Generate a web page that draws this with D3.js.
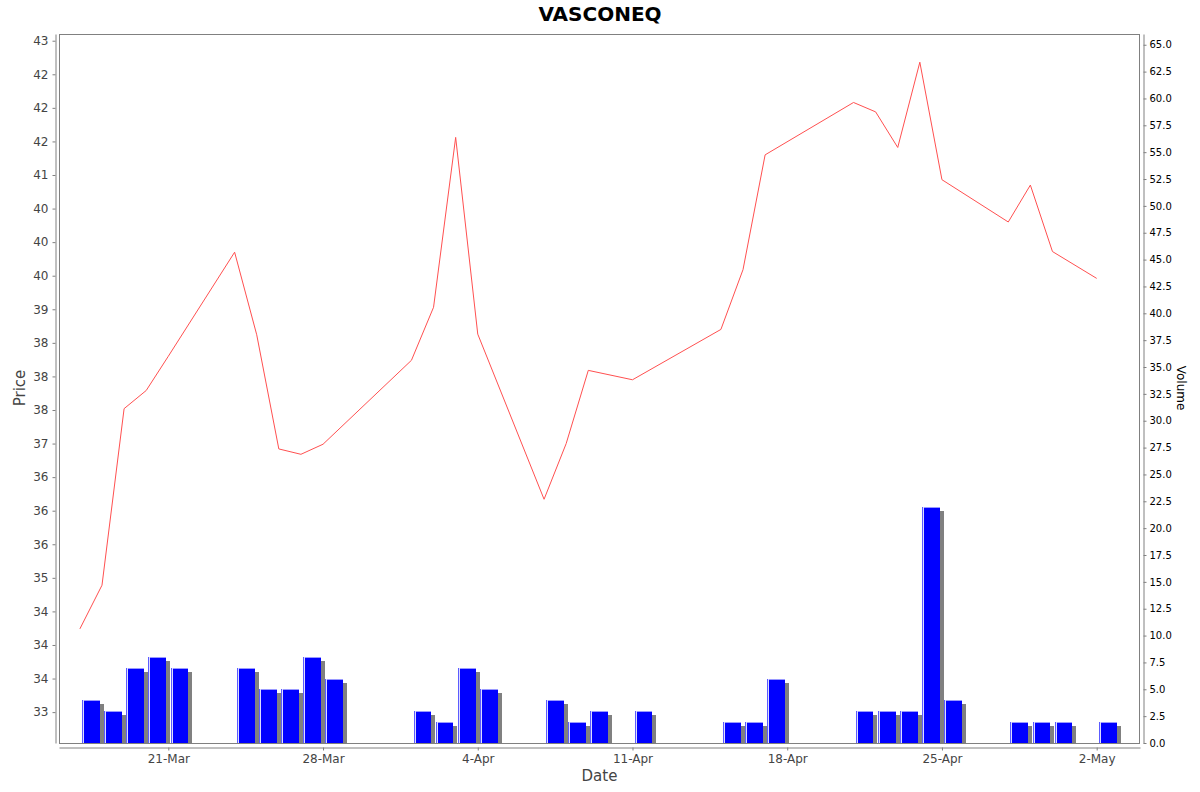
<!DOCTYPE html>
<html>
<head>
<meta charset="utf-8">
<script src="https://cdn.jsdelivr.net/npm/d3@7"></script>
<style>
  body { margin: 0; background: #fff; }
  svg { font-family: "DejaVu Sans", sans-serif; }
</style>
</head>
<body>
<div id="chart"></div>
<script>
// trading days (2025), closing price and volume
var dates = ["2025-03-17","2025-03-18","2025-03-19","2025-03-20","2025-03-21",
  "2025-03-24","2025-03-25","2025-03-26","2025-03-27","2025-03-28",
  "2025-04-01","2025-04-02","2025-04-03","2025-04-04",
  "2025-04-07","2025-04-08","2025-04-09","2025-04-11",
  "2025-04-15","2025-04-16","2025-04-17",
  "2025-04-21","2025-04-22","2025-04-23","2025-04-24","2025-04-25",
  "2025-04-28","2025-04-29","2025-04-30","2025-05-02"];
var prices = [34.24, 34.89, 37.52, 37.79, 38.30,
  39.85, 38.62, 36.92, 36.84, 36.99,
  38.24, 39.03, 41.56, 38.63,
  36.17, 37.00, 38.09, 37.95,
  38.70, 39.59, 41.30,
  42.08, 41.94, 41.41, 42.68, 40.93,
  40.30, 40.85, 39.86, 39.46];
var volumes = [4, 3, 7, 8, 7,
  7, 5, 5, 8, 6,
  3, 2, 7, 5,
  4, 2, 3, 3,
  2, 2, 6,
  3, 3, 3, 22, 4,
  2, 2, 2, 2];
var dateTicks = ["2025-03-21","2025-03-28","2025-04-04","2025-04-11","2025-04-18","2025-04-25","2025-05-02"];

var DAY = 864e5;
var W = 1200, H = 792;
// plot area ("top" is reserved on window, so use plot* names)
var plotLeft = 59, plotRight = 1140, plotTop = 34, plotBottom = 743;

var parse = d3.utcParse("%Y-%m-%d");
var data = dates.map(function(d, i) {
  return { date: parse(d), price: prices[i], volume: volumes[i] };
});

var x = d3.scaleUtc()
  .domain([+parse("2025-03-21") - 4.945 * DAY, +parse("2025-05-02") + 1.96 * DAY])
  .range([plotLeft, plotRight]);
var yPrice = d3.scaleLinear().domain([32.54, 43.1]).range([plotBottom, plotTop]);
var yVol = d3.scaleLinear().domain([0, 66]).range([plotBottom, plotTop]);

// java style HALF_EVEN rounding for the price ticks
function halfEven(v) {
  var f = Math.floor(v), r = v - f;
  if (Math.abs(r - 0.5) < 1e-9) return String(f % 2 === 0 ? f : f + 1);
  return String(Math.round(v));
}

var svg = d3.select("#chart").append("svg")
  .attr("width", W)
  .attr("height", H);

svg.append("text")
  .attr("x", 600).attr("y", 21)
  .attr("text-anchor", "middle")
  .style("font-size", "20px")
  .style("font-weight", "bold")
  .text("VASCONEQ");

// plot frame
svg.append("rect")
  .attr("x", plotLeft + 0.5).attr("y", plotTop + 0.5)
  .attr("width", plotRight - plotLeft - 1).attr("height", plotBottom - plotTop)
  .attr("fill", "#fff")
  .attr("stroke", "#808080");

var clip = svg.append("defs").append("clipPath").attr("id", "plotclip");
clip.append("rect").attr("x", plotLeft + 1).attr("y", plotTop + 1)
  .attr("width", plotRight - plotLeft - 2).attr("height", plotBottom - plotTop - 1);

var plot = svg.append("g").attr("clip-path", "url(#plotclip)");

// volume bars with shadow
var bars = plot.selectAll("g.bar").data(data).enter().append("g").attr("class", "bar");
bars.each(function(d) {
  var g = d3.select(this);
  var x0 = Math.round(x(+d.date + 0.1 * DAY));
  var x1 = Math.round(x(+d.date + 0.9 * DAY));
  var yt = Math.round(yVol(d.volume));
  var yb = Math.round(yVol(0));
  g.append("rect").attr("x", x0 + 4).attr("y", yt + 4)
    .attr("width", x1 - x0).attr("height", Math.max(0, yb - yt - 4))
    .attr("fill", "#808080");
  g.append("rect").attr("x", x0).attr("y", yt)
    .attr("width", x1 - x0).attr("height", yb - yt)
    .attr("fill", "#0000ff");
  g.append("rect").attr("x", x0).attr("y", yt)
    .attr("width", 1).attr("height", yb - yt)
    .attr("fill", "#5c5cff");
  g.append("rect").attr("x", x0 + 1).attr("y", yt)
    .attr("width", 1).attr("height", yb - yt)
    .attr("fill", "#dcdcff");
  g.append("rect").attr("x", x0 + 2).attr("y", yt)
    .attr("width", x1 - x0 - 2).attr("height", 1)
    .attr("fill", "#9a9aff");
});

// price line
var line = d3.line()
  .x(function(d) { return x(d.date); })
  .y(function(d) { return yPrice(d.price); });
plot.append("path")
  .datum(data)
  .attr("fill", "none")
  .attr("stroke", "#ff5050")
  .attr("stroke-width", 1)
  .attr("d", line);

function styleAxis(g, color, size) {
  g.select(".domain").attr("stroke", "#808080");
  g.selectAll(".tick line").attr("stroke", "#808080");
  g.selectAll(".tick text").attr("fill", color).style("font-size", size)
    .style("font-family", "DejaVu Sans, sans-serif");
}

// left price axis
var axL = svg.append("g")
  .attr("transform", "translate(55.5,0)")
  .call(d3.axisLeft(yPrice)
    .tickValues(d3.range(33, 43.001, 0.5))
    .tickFormat(halfEven)
    .tickSizeInner(3).tickSizeOuter(0).tickPadding(4));
styleAxis(axL, "#444", "12px");

// bottom date axis
var axB = svg.append("g")
  .attr("transform", "translate(0,747.5)")
  .call(d3.axisBottom(x)
    .tickValues(dateTicks.map(parse))
    .tickFormat(d3.utcFormat("%-d-%b"))
    .tickSizeInner(3).tickSizeOuter(0).tickPadding(4));
styleAxis(axB, "#444", "12px");

// right volume axis
var axR = svg.append("g")
  .attr("transform", "translate(1143.5,0)")
  .call(d3.axisRight(yVol)
    .tickValues(d3.range(0, 65.001, 2.5))
    .tickFormat(d3.format(".1f"))
    .tickSizeInner(3).tickSizeOuter(0).tickPadding(3));
styleAxis(axR, "#000", "10px");

// axis titles
svg.append("text")
  .attr("transform", "translate(25,388) rotate(-90)")
  .attr("text-anchor", "middle")
  .attr("fill", "#444")
  .style("font-size", "15px")
  .text("Price");
svg.append("text")
  .attr("x", (plotLeft + plotRight) / 2).attr("y", 781)
  .attr("text-anchor", "middle")
  .attr("fill", "#444")
  .style("font-size", "15px")
  .text("Date");
svg.append("text")
  .attr("transform", "translate(1177,388) rotate(90)")
  .attr("text-anchor", "middle")
  .attr("fill", "#000")
  .style("font-size", "12px")
  .text("Volume");
</script>
</body>
</html>
